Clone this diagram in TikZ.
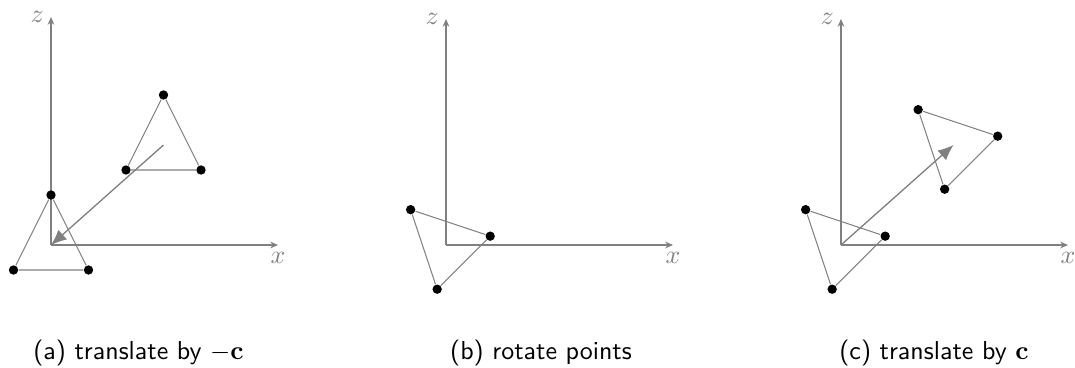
\documentclass[tikz,border=0pt]{standalone}
\usepackage{amsmath,amssymb}
\usepackage{tikz}
\usetikzlibrary{arrows.meta}

\tikzset{
  axis/.style={gray, line width=0.5pt, -{Stealth[length=3pt,width=2.6pt]}},
  pt/.style={circle, fill=black, inner sep=0pt, minimum size=3.6pt},
  tri/.style={gray, line width=0.4pt},
  vec/.style={gray, line width=0.5pt, -{Latex[length=6pt,width=5pt]}},
  axlabel/.style={text=gray, inner sep=2.5pt},
  caption/.style={font=\sffamily},
}

\begin{document}
\begin{tikzpicture}[x=0.677cm,y=0.677cm]
\useasboundingbox (-1.02,-2.44) rectangle (20.48,4.9);

% ---- (a) translate by -c
\begin{scope}
\coordinate (oa) at (0,0);
\coordinate (ca) at (2.25,2);
\draw[axis] (oa) -- (4.54,0) node[axlabel,below] (xa) {$x$};
\draw[axis] (oa) -- (0,4.56) node[axlabel,left] (za) {$z$};
% original triangle around c
\node[pt] (a1) at (2.25,3) {};
\node[pt] (a2) at (1.5,1.5) {};
\node[pt] (a3) at (3,1.5) {};
\draw[tri] (a1) -- (a2) -- (a3) -- (a1);
% moved to the origin
\node[pt] (a4) at (0,1) {};
\node[pt] (a5) at (-0.75,-0.5) {};
\node[pt] (a6) at (0.75,-0.5) {};
\draw[tri] (a4) -- (a5) -- (a6) -- (a4);
\draw[vec] (ca) -- (oa);
\node[caption] (capa) at (1.75,-2.16) {(a) translate by $-\mathbf{c}$};
\end{scope}

% ---- (b) rotate points
\begin{scope}[xshift=7.9*0.677cm]
\coordinate (ob) at (0,0);
\draw[axis] (ob) -- (4.54,0) node[axlabel,below] (xb) {$x$};
\draw[axis] (ob) -- (0,4.52) node[axlabel,left] (zb) {$z$};
\begin{scope}[rotate=45]
\node[pt] (b1) at (0,1) {};
\node[pt] (b2) at (-0.75,-0.5) {};
\node[pt] (b3) at (0.75,-0.5) {};
\end{scope}
\draw[tri] (b1) -- (b2) -- (b3) -- (b1);
\node[caption] (capb) at (1.9,-2.16) {(b) rotate points};
\end{scope}

% ---- (c) translate by c
\begin{scope}[xshift=15.8*0.677cm]
\coordinate (oc) at (0,0);
\coordinate (cc) at (2.25,2);
\draw[axis] (oc) -- (4.54,0) node[axlabel,below] (xc) {$x$};
\draw[axis] (oc) -- (0,4.52) node[axlabel,left] (zc) {$z$};
\begin{scope}[rotate=45]
\node[pt] (c1) at (0,1) {};
\node[pt] (c2) at (-0.75,-0.5) {};
\node[pt] (c3) at (0.75,-0.5) {};
\end{scope}
\draw[tri] (c1) -- (c2) -- (c3) -- (c1);
\begin{scope}[shift={(2.25,2)},rotate=45]
\node[pt] (c4) at (0,1) {};
\node[pt] (c5) at (-0.75,-0.5) {};
\node[pt] (c6) at (0.75,-0.5) {};
\end{scope}
\draw[tri] (c4) -- (c5) -- (c6) -- (c4);
\draw[vec] (oc) -- (cc);
\node[caption] (capc) at (1.86,-2.16) {(c) translate by $\mathbf{c}$};
\end{scope}
\end{tikzpicture}
\end{document}
